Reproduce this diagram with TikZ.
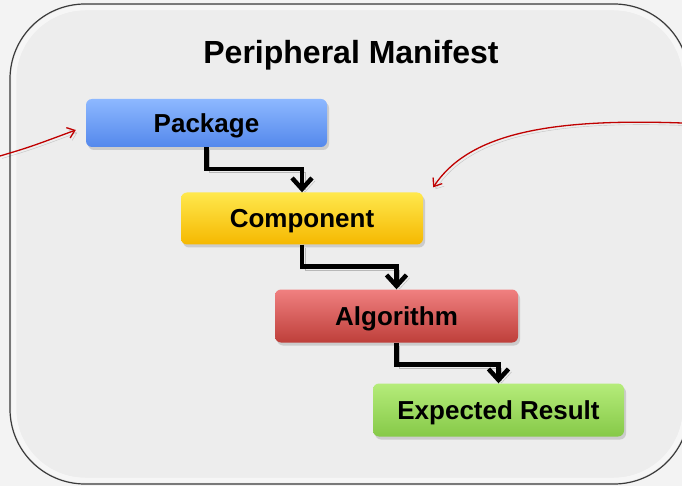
\documentclass[tikz,border=0pt]{standalone}
\usepackage{fontspec}
\setmainfont{Liberation Sans}
\usetikzlibrary{arrows.meta,shadows,calc}
\definecolor{bgout}{HTML}{F3F3F3}
\definecolor{panel}{HTML}{EDEDED}
\definecolor{panelline}{HTML}{3A3A3A}
\definecolor{blueL}{HTML}{8DB8FF}
\definecolor{blueB}{HTML}{5C92F4}
\definecolor{blueD}{HTML}{5488EC}
\definecolor{yelL}{HTML}{FFE84D}
\definecolor{yelB}{HTML}{FFC800}
\definecolor{yelD}{HTML}{F5B800}
\definecolor{redL}{HTML}{F08080}
\definecolor{redB}{HTML}{C8443F}
\definecolor{redD}{HTML}{BE3F3A}
\definecolor{grnL}{HTML}{B5EC7A}
\definecolor{grnB}{HTML}{92D651}
\definecolor{grnD}{HTML}{86C948}
\definecolor{linkred}{HTML}{C00000}
\begin{document}
\begin{tikzpicture}[x=1pt,y=-1pt,
  stepbox/.style={rounded corners=6pt, minimum height=50pt, inner sep=0pt,
    text height=18.6pt, text depth=0pt,
    font=\fontsize{26}{30}\selectfont\bfseries, text=black,
    drop shadow={shadow xshift=2pt,shadow yshift=-3pt,opacity=0.3}},
  flow/.style={line width=4.5pt, line join=miter, black,
    -{Straight Barb[length=11pt,width=20pt,line width=4.5pt]},
    preaction={draw=black, opacity=0.22, transform canvas={xshift=3pt,yshift=-3pt}}},
  link/.style={line width=1.3pt, linkred,
    -{Straight Barb[length=7pt,width=11pt,line width=1.3pt]},
    preaction={draw=black, opacity=0.18, transform canvas={xshift=2pt,yshift=-2.5pt}}}
]
\useasboundingbox (0,0) rectangle (682,486);
\fill[bgout] (0,0) rectangle (682,486);
% panel
\path[draw=panelline, line width=1.2pt, fill=panel, rounded corners=75pt] (10,4) rectangle (689,484);
\path[draw=white, line width=5pt, opacity=0.55, rounded corners=71pt] (14,8) rectangle (685,480);
\path[draw=panel, line width=1pt, rounded corners=69pt] (17,11) rectangle (682,477);

\node[font=\fontsize{32}{36}\selectfont\bfseries, text height=22.9pt, text depth=0pt, inner sep=0pt] (title) at (351,52.5) {Peripheral Manifest};

\node[stepbox, minimum width=241pt, minimum height=48pt, top color=blueL, middle color=blueB, bottom color=blueD] (pkg) at (206.5,123) {Package};
\node[stepbox, minimum width=242pt, minimum height=52pt, top color=yelL, middle color=yelB, bottom color=yelD] (comp) at (302,218.5) {Component};
\node[stepbox, minimum width=243pt, minimum height=53pt, top color=redL, middle color=redB, bottom color=redD] (alg) at (396.5,316) {Algorithm};
\node[stepbox, minimum width=251pt, minimum height=53pt, top color=grnL, middle color=grnB, bottom color=grnD] (exp) at (498.5,410) {Expected Result};

\draw[flow] (pkg.south) -- ++(0,22) -| (comp.north);
\draw[flow] (comp.south) -- ++(0,22) -| (alg.north);
\draw[flow] (alg.south) -- ++(0,22) -| (exp.north);

\coordinate (lin) at (0,156);
\coordinate (rin) at (682,123);
\draw[link] (lin) .. controls (30,147) .. ([shift={(-10,7)}]pkg.west);
\draw[link] (rin) .. controls (545,118) and (468,135) .. ([shift={(10,-5)}]comp.north east);
\end{tikzpicture}
\end{document}
